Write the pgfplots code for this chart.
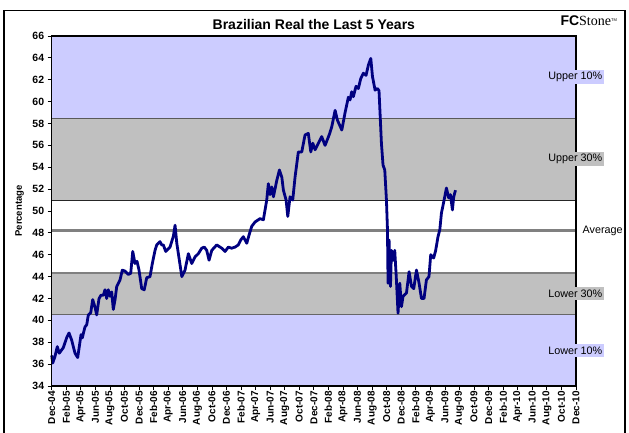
\documentclass[border=0pt]{standalone}
\usepackage{fontspec}
\setmainfont{Liberation Sans}
\newfontfamily\seriffont{Liberation Serif}
\usepackage{pgfplots}
\pgfplotsset{compat=1.18}
\definecolor{lav}{RGB}{204,204,255}
\definecolor{bandgrey}{RGB}{192,192,192}
\definecolor{navyline}{RGB}{0,0,128}
\definecolor{avggrey}{RGB}{128,128,128}

\begin{document}
\begin{tikzpicture}
\useasboundingbox (-51.7pt,-46pt) rectangle (577.3pt,386pt);
% outer frame (bottom is cut off)
\draw[line width=1.5pt] (-47.7pt,-60pt) -- (-47.7pt,375.5pt) -- (573.5pt,375.5pt) -- (573.5pt,-60pt);

\begin{axis}[
    scale only axis,
    width=524.3pt, height=350pt,
    xmin=0, xmax=72, ymin=34, ymax=66,
    axis on top,
    clip=false,
    axis line style={line width=1.2pt},
    tick align=outside,
    major tick length=4pt,
    tick style={black, line width=0.8pt},
    xtick pos=bottom, ytick pos=left,
    xtick={0,2,...,72},
    xticklabels={Dec-04,Feb-05,Apr-05,Jun-05,Aug-05,Oct-05,Dec-05,Feb-06,Apr-06,Jun-06,Aug-06,Oct-06,Dec-06,Feb-07,Apr-07,Jun-07,Aug-07,Oct-07,Dec-07,Feb-08,Apr-08,Jun-08,Aug-08,Oct-08,Dec-08,Feb-09,Apr-09,Jun-09,Aug-09,Oct-09,Dec-09,Feb-10,Apr-10,Jun-10,Aug-10,Oct-10,Dec-10},
    xticklabel style={rotate=90, anchor=east, font=\bfseries\fontsize{10}{10}\selectfont, inner sep=1pt},
    ytick={34,36,...,66},
    yticklabel style={font=\bfseries\fontsize{10.5}{10.5}\selectfont, /pgf/number format/assume math mode=true},
    ylabel={Percentage},
    ylabel style={at={(axis description cs:-0.0614,0.5)}, anchor=center, font=\bfseries\fontsize{9.5}{9.5}\selectfont},
]
% bands
\addplot[fill=lav, draw=none] coordinates {(0,58.45) (72,58.45) (72,66) (0,66)} -- cycle;
\addplot[fill=bandgrey, draw=none] coordinates {(0,51) (72,51) (72,58.45) (0,58.45)} -- cycle;
\addplot[fill=bandgrey, draw=none] coordinates {(0,40.55) (72,40.55) (72,44.35) (0,44.35)} -- cycle;
\addplot[fill=lav, draw=none] coordinates {(0,34) (72,34) (72,40.55) (0,40.55)} -- cycle;
% band boundaries
\addplot[color=black!65, line width=0.9pt] coordinates {(0,58.45) (72,58.45)};
\addplot[color=black!85, line width=0.8pt] coordinates {(0,51) (72,51)};
\addplot[color=avggrey, line width=2.6pt] coordinates {(0,48.2) (72,48.2)};
\addplot[color=avggrey, line width=1.6pt] coordinates {(0,44.35) (72,44.35)};
\addplot[color=black!60, line width=1.2pt] coordinates {(0,40.55) (72,40.55)};

% exchange-rate series
\addplot[navyline, line width=2.8pt, line join=round] coordinates {
(0.00,36.8) (0.14,36.1) (0.45,36.7) (0.77,37.6) (1.04,37.0) (1.59,37.5)
(2.05,38.4) (2.38,38.85) (2.74,38.2) (3.20,37.0) (3.57,36.6) (4.03,38.7)
(4.20,38.4) (4.57,39.4) (4.81,39.6) (5.03,40.5) (5.36,40.7) (5.63,41.9)
(5.95,41.2) (6.18,40.5) (6.50,42.0) (6.77,42.3) (7.09,42.3) (7.32,42.8)
(7.55,42.0) (7.77,42.8) (8.01,42.2) (8.24,42.6) (8.46,41.0) (8.70,41.9)
(8.93,43.1) (9.38,43.7) (9.70,44.6) (10.07,44.5) (10.52,44.2) (10.85,44.3)
(11.13,46.3) (11.44,45.2) (11.72,45.4) (11.99,44.6) (12.36,42.9) (12.71,42.8)
(13.05,43.9) (13.50,44.0) (13.82,45.2) (14.19,46.4) (14.42,46.9) (14.87,47.2)
(15.11,46.9) (15.33,46.9) (15.66,46.3) (16.25,46.7) (16.71,47.7) (16.94,48.7)
(17.18,47.05) (17.87,44.0) (18.31,44.6) (18.77,46.1) (19.23,45.2) (19.68,45.8)
(20.14,46.1) (20.60,46.6) (20.96,46.7) (21.29,46.4) (21.61,45.5) (21.98,46.4)
(22.66,46.9) (23.35,46.6) (23.80,46.3) (24.26,46.7) (24.71,46.6) (25.18,46.7)
(25.63,46.9) (25.96,47.35) (26.32,47.65) (26.79,47.05) (27.10,47.8) (27.47,48.6)
(27.93,49.0) (28.61,49.3) (29.07,49.2) (29.53,51.0) (29.75,52.5) (29.99,51.5)
(30.22,52.2) (30.45,51.3) (30.91,52.8) (31.27,53.75) (31.60,53.1) (31.82,51.9)
(32.19,51.0) (32.42,49.5) (32.73,51.3) (33.10,51.0) (33.42,53.1) (33.87,55.4)
(34.34,55.4) (34.79,56.95) (35.24,57.1) (35.58,55.4) (35.85,56.2) (36.17,55.6)
(36.63,56.2) (37.08,56.8) (37.54,56.0) (38.13,57.0) (38.46,57.7) (38.92,59.2)
(39.24,58.3) (39.84,57.4) (40.29,59.0) (40.74,60.4) (40.97,60.15) (41.20,60.9)
(41.42,60.45) (41.79,61.4) (42.11,61.2) (42.44,62.1) (42.80,62.6) (43.17,62.4)
(43.49,63.35) (43.82,63.95) (44.05,62.3) (44.41,61.05) (44.73,61.2) (44.95,61.0)
(45.28,56.2) (45.50,54.2) (45.74,53.75) (45.97,51.0) (46.11,48.3) (46.19,43.4)
(46.33,47.35) (46.52,43.1) (46.66,46.4) (46.88,45.5) (47.11,46.4) (47.34,43.7)
(47.56,40.65) (47.80,43.4) (48.03,41.25) (48.25,42.2) (48.72,42.5) (49.08,44.45)
(49.41,43.1) (49.72,42.9) (50.09,44.6) (50.45,43.4) (50.78,42.0) (51.13,42.0)
(51.46,43.7) (51.81,44.0) (52.05,46.0) (52.46,45.7) (52.73,46.4) (53.05,47.65)
(53.30,48.3) (53.52,49.8) (53.84,50.85) (54.21,52.1) (54.52,51.2) (54.76,51.5)
(55.03,50.1) (55.21,51.3) (55.45,51.9)
};

% anchor points for the band labels
\coordinate (u10) at (axis cs:72,62.25);
\coordinate (u30) at (axis cs:72,54.75);
\coordinate (avg) at (axis cs:72,48.2);
\coordinate (l30) at (axis cs:72,42.45);
\coordinate (l10) at (axis cs:72,37.25);

% title
\node[font=\bfseries\fontsize{14}{14}\selectfont] at (axis description cs:0.5,1.034) {Brazilian Real the Last 5 Years};
\end{axis}

% band labels sit over the right border
\tikzset{bandlbl/.style={inner xsep=1.5pt, inner ysep=2.5pt, anchor=east, font=\fontsize{10.8}{10.8}\selectfont}}
\node[bandlbl, fill=lav] at ([xshift=28pt]u10) {Upper 10\%};
\node[bandlbl, fill=bandgrey] at ([xshift=28pt]u30) {Upper 30\%};
\node[inner xsep=1.5pt, anchor=west, font=\fontsize{10.8}{10.8}\selectfont] at ([xshift=5pt]avg) {Average};
\node[bandlbl, fill=bandgrey] at ([xshift=28pt]l30) {Lower 30\%};
\node[bandlbl, fill=lav] at ([xshift=28pt]l10) {Lower 10\%};

\node[inner sep=0pt] at (537pt,365pt) {{\fontsize{14}{14}\selectfont\bfseries FC}{\seriffont\fontsize{14}{14}\selectfont Stone}\raisebox{4.5pt}{\fontsize{4}{4}\selectfont TM}};
\end{tikzpicture}
\end{document}
